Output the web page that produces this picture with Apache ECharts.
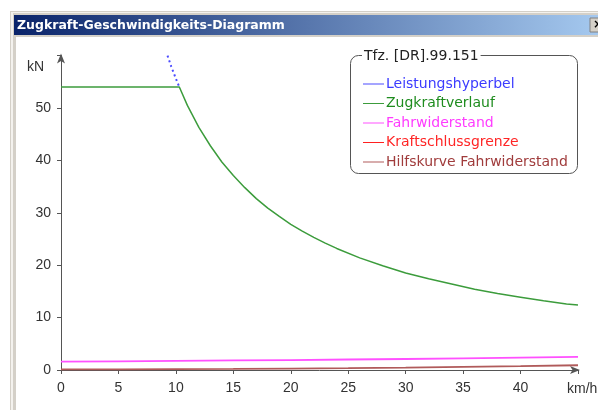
<!DOCTYPE html>
<html>
<head>
<meta charset="utf-8">
<script src="https://cdn.jsdelivr.net/npm/echarts@6/dist/echarts.min.js"></script>
<style>html,body{margin:0;padding:0;background:#fff}#c{width:598px;height:410px}</style>
</head>
<body>
<div id="c"></div>
<script>
const windowTitle = 'Zugkraft-Geschwindigkeits-Diagramm';
const legendTitle = 'Tfz. [DR].99.151';
const seriesNames = ['Leistungshyperbel','Zugkraftverlauf','Fahrwiderstand','Kraftschlussgrenze','Hilfskurve Fahrwiderstand'];
const xTicks = [0,5,10,15,20,25,30,35,40];
const yTicks = [0,10,20,30,40,50];

// visible part of the power hyperbola (the rest lies under the tractive-effort curve)
const hyperSpeed = [9.27, 9.6, 10, 10.3];
const hyperForce = [60, 57.9, 55.6, 54];

const zugSpeed = [0, 10.3, 11, 12, 13, 14, 15, 16, 17, 18, 19, 20, 21, 22, 23, 24, 26, 28, 30, 32, 34, 36, 38, 40, 42, 44, 45];
const zugForce = [54, 54, 50.5, 46.3, 42.8, 39.7, 37.1, 34.8, 32.7, 30.9, 29.3, 27.8, 26.5, 25.3, 24.2, 23.2, 21.4, 19.9, 18.5, 17.4, 16.4, 15.4, 14.6, 13.9, 13.2, 12.6, 12.4];

const resSpeed = [0, 5, 10, 15, 20, 25, 30, 35, 40, 45];
const fahrForce = [1.60, 1.66, 1.74, 1.82, 1.90, 2.00, 2.10, 2.22, 2.37, 2.52];
const hilfForce = [0.12, 0.13, 0.16, 0.21, 0.28, 0.36, 0.47, 0.60, 0.74, 0.91];
const kraftSpeed = [];
const kraftForce = [];

const lineColors = ['#4a4aff', '#3c9c3c', '#ff50ff', '#ff2020', '#b05a5a'];
const textColors = ['#3b3bff', '#1e8c1e', '#ff3cff', '#ff2626', '#a03c3c'];

function pairs(xs, ys) { return xs.map((x, i) => [x, ys[i]]); }

const FONT = 'Liberation Sans';
const LFONT = 'DejaVu Sans';
const chart = echarts.init(document.getElementById('c'), null, {renderer: 'canvas'});

chart.setOption({
  backgroundColor: '#ffffff',
  animation: false,
  textStyle: {fontFamily: FONT},
  grid: {left: 61, right: 20, top: 55.6, bottom: 40, containLabel: false},
  xAxis: {
    type: 'value', min: 0, max: 45, interval: 5,
    axisLine: {show: true, lineStyle: {color: '#555', width: 1}, symbol: ['none', 'arrow'], symbolSize: [6, 10], symbolOffset: [0, 2]},
    axisTick: {show: true, length: 4, lineStyle: {color: '#555'}},
    axisLabel: {margin: 11, fontSize: 14, color: '#333', fontFamily: FONT,
      formatter: v => (xTicks.indexOf(v) >= 0 ? String(v) : '')},
    splitLine: {show: false}
  },
  yAxis: {
    type: 'value', min: 0, max: 60, interval: 10,
    axisLine: {show: true, lineStyle: {color: '#555', width: 1}, symbol: ['none', 'arrow'], symbolSize: [6, 10], symbolOffset: [0, 2]},
    axisTick: {show: true, length: 4, lineStyle: {color: '#555'}},
    axisLabel: {margin: 10, fontSize: 14, color: '#333', fontFamily: FONT,
      formatter: v => (yTicks.indexOf(v) >= 0 ? String(v) : '')},
    splitLine: {show: false}
  },
  legend: {
    orient: 'vertical', left: 358, top: 72,
    itemWidth: 21, itemHeight: 14, itemGap: 5.5,
    textStyle: {fontSize: 14, fontFamily: LFONT, padding: [0, 0, 0, -3]},
    data: seriesNames.map((n, i) => ({name: n, icon: 'path://M0,0L21,0L21,1L0,1Z', itemStyle: {color: lineColors[i]}, textStyle: {color: textColors[i]}})),
    selectedMode: false
  },
  series: [
    {name: seriesNames[0], type: 'line', data: pairs(hyperSpeed, hyperForce), symbol: 'none', lineStyle: {color: lineColors[0], width: 2, type: [2, 3]}, itemStyle: {color: lineColors[0]}},
    {name: seriesNames[1], type: 'line', data: pairs(zugSpeed, zugForce), symbol: 'none', lineStyle: {color: lineColors[1], width: 1.5}, itemStyle: {color: lineColors[1]}},
    {name: seriesNames[2], type: 'line', data: pairs(resSpeed, fahrForce), symbol: 'none', lineStyle: {color: lineColors[2], width: 1.8}, itemStyle: {color: lineColors[2]}},
    {name: seriesNames[3], type: 'line', data: pairs(kraftSpeed, kraftForce), symbol: 'none', lineStyle: {color: lineColors[3], width: 1.5}, itemStyle: {color: lineColors[3]}},
    {name: seriesNames[4], type: 'line', data: pairs(resSpeed, hilfForce), symbol: 'none', lineStyle: {color: lineColors[4], width: 1.8}, itemStyle: {color: lineColors[4]}}
  ],
  graphic: [
    {type: 'rect', z: -10, silent: true, shape: {x: 10, y: 11, width: 600, height: 410}, style: {fill: '#d4d0c8'}},
    {type: 'rect', z: -9, silent: true, shape: {x: 11, y: 12, width: 2, height: 410}, style: {fill: '#f4f2ee'}},
    {type: 'rect', z: -9, silent: true, shape: {x: 11, y: 12, width: 600, height: 1}, style: {fill: '#f4f2ee'}},
    {type: 'rect', z: -9, silent: true, shape: {x: 14, y: 15, width: 590, height: 20},
      style: {fill: {type: 'linear', x: 0, y: 0, x2: 1, y2: 0, colorStops: [{offset: 0, color: '#0a246a'}, {offset: 1, color: '#a6caf0'}]}}},
    {type: 'rect', z: -9, silent: true, shape: {x: 16, y: 37, width: 590, height: 380}, style: {fill: '#ffffff'}},
    {type: 'rect', z: -8, silent: true, shape: {x: 590, y: 18, width: 14, height: 14}, style: {fill: '#d4d0c8', stroke: '#808080'}},
    {type: 'text', z: -7, silent: true, x: 593, y: 25, style: {text: '×', fill: '#000', font: 'bold 12px "DejaVu Sans"', verticalAlign: 'middle'}},
    {type: 'text', z: -7, silent: true, x: 17, y: 25.5, style: {text: windowTitle, fill: '#ffffff', font: 'bold 12.5px "DejaVu Sans"', verticalAlign: 'middle'}},
    {type: 'text', z: 5, silent: true, x: 27, y: 67, style: {text: 'kN', fill: '#333', font: '14px "Liberation Sans"', verticalAlign: 'middle'}},
    {type: 'text', z: 5, silent: true, x: 567, y: 389, style: {text: 'km/h', fill: '#333', font: '14px "Liberation Sans"', verticalAlign: 'middle'}},
    {type: 'rect', z: 3, silent: true, shape: {x: 350.5, y: 55.5, width: 227, height: 118, r: 8}, style: {fill: 'none', stroke: '#555', lineWidth: 1}},
    {type: 'text', z: 4, silent: true, x: 362, y: 56, style: {text: legendTitle, fill: '#222', font: '14px "DejaVu Sans"', verticalAlign: 'middle', backgroundColor: '#ffffff', padding: [0, 2]}}
  ]
});
</script>
</body>
</html>
